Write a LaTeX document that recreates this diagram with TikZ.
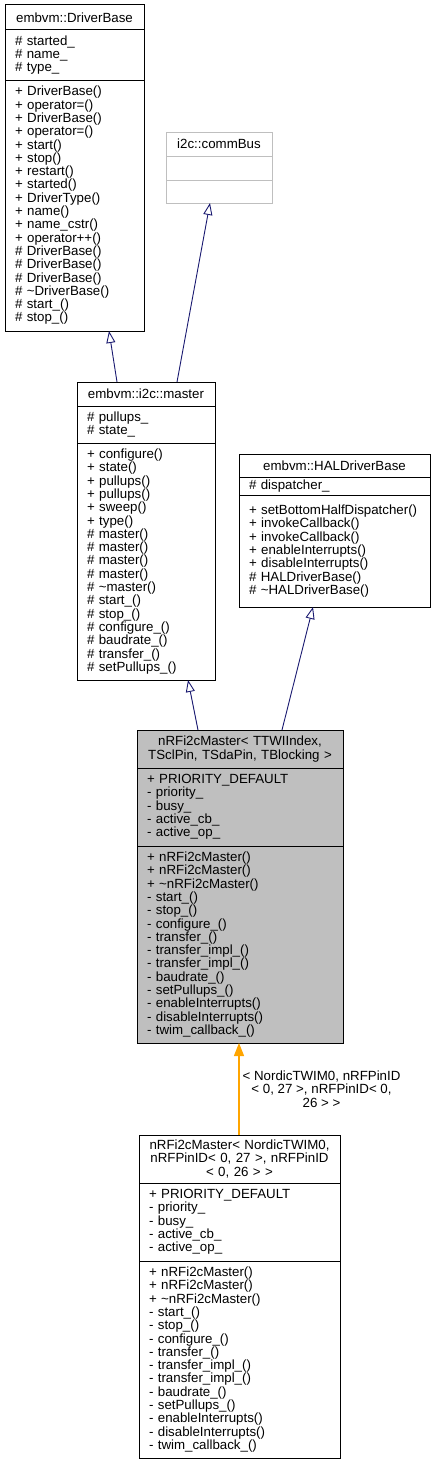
\documentclass[tikz,border=0pt]{standalone}
\usepackage{fontspec}
\setmainfont{Liberation Sans}
\usetikzlibrary{arrows.meta, positioning}
\definecolor{cNavy}{RGB}{25,25,112}
\definecolor{cOrange}{RGB}{255,165,0}
\definecolor{cGrey}{RGB}{191,191,191}
\newcommand{\umlfont}{\fontsize{13.3}{13.3}\selectfont\hyphenpenalty=10000}
\tikzset{
  basebox/.style={rectangle, draw=black, line width=1pt, inner xsep=10pt,
                  inner ysep=0pt, outer sep=0pt, font=\umlfont},
  headbox/.style={basebox, align=center},
  listbox/.style={basebox, align=left},
  ghostbox/.style={basebox, draw=cGrey, align=center},
  inherit/.style={-{Triangle[open, length=12pt, width=9pt]}, line width=0.9pt, color=cNavy},
  tmplarrow/.style={-{Triangle[length=13pt, width=10pt]}, line width=1.3pt, draw=cOrange, fill=cOrange}
}

\begin{document}
\begin{tikzpicture}[x=1pt, y=-1pt]
  \useasboundingbox (0,0) rectangle (434,1464);

  % ── embvm::DriverBase ──
  \node[headbox, text width=119pt, minimum height=25pt, anchor=north west] (db_name) at (5,5)
      {embvm::DriverBase};
  \node[listbox, text width=119pt, minimum height=50pt, below=0pt of db_name] (db_attr)
      {\# started\_\\\# name\_\\\# type\_};
  \node[listbox, text width=119pt, minimum height=251pt, below=0pt of db_attr] (db_meth)
      {+ DriverBase()\\+ operator=()\\+ DriverBase()\\+ operator=()\\+ start()\\+ stop()\\
       + restart()\\+ started()\\+ DriverType()\\+ name()\\+ name\_cstr()\\+ operator++()\\
       \# DriverBase()\\\# DriverBase()\\\# DriverBase()\\\# \textasciitilde DriverBase()\\
       \# start\_()\\\# stop\_()};

  % ── i2c::commBus ──
  \node[ghostbox, text width=86pt, minimum height=24pt, anchor=north west] (cb_name) at (166,132)
      {i2c::commBus};
  \node[ghostbox, text width=86pt, minimum height=24pt, below=0pt of cb_name] (cb_attr) {};
  \node[ghostbox, text width=86pt, minimum height=23pt, below=0pt of cb_attr] (cb_meth) {};

  % ── embvm::i2c::master ──
  \node[headbox, text width=118pt, minimum height=24pt, anchor=north west] (ms_name) at (77,382)
      {embvm::i2c::master};
  \node[listbox, text width=118pt, minimum height=37pt, below=0pt of ms_name] (ms_attr)
      {\# pullups\_\\\# state\_};
  \node[listbox, text width=118pt, minimum height=237pt, below=0pt of ms_attr] (ms_meth)
      {+ configure()\\+ state()\\+ pullups()\\+ pullups()\\+ sweep()\\+ type()\\
       \# master()\\\# master()\\\# master()\\\# master()\\\# \textasciitilde master()\\
       \# start\_()\\\# stop\_()\\\# configure\_()\\\# baudrate\_()\\\# transfer\_()\\
       \# setPullups\_()};

  % ── embvm::HALDriverBase ──
  \node[headbox, text width=171pt, minimum height=23pt, anchor=north west] (hal_name) at (239,454)
      {embvm::HALDriverBase};
  \node[listbox, text width=171pt, minimum height=18pt, below=0pt of hal_name] (hal_attr)
      {\# dispatcher\_};
  \node[listbox, text width=171pt, minimum height=112pt, below=0pt of hal_attr] (hal_meth)
      {+ setBottomHalfDispatcher()\\+ invokeCallback()\\+ invokeCallback()\\
       + enableInterrupts()\\+ disableInterrupts()\\\# HALDriverBase()\\
       \# \textasciitilde HALDriverBase()};

  % ── nRFi2cMaster template ──
  \node[headbox, fill=cGrey, text width=186pt, minimum height=38pt, anchor=north west] (nr_name) at (137,730)
      {nRFi2cMaster< TTWIIndex,\\TSclPin, TSdaPin, TBlocking >};
  \node[listbox, fill=cGrey, text width=186pt, minimum height=78pt, below=0pt of nr_name] (nr_attr)
      {+ PRIORITY\_DEFAULT\\- priority\_\\- busy\_\\- active\_cb\_\\- active\_op\_};
  \node[listbox, fill=cGrey, text width=186pt, minimum height=197pt, below=0pt of nr_attr] (nr_meth)
      {+ nRFi2cMaster()\\+ nRFi2cMaster()\\+ \textasciitilde nRFi2cMaster()\\- start\_()\\
       - stop\_()\\- configure\_()\\- transfer\_()\\- transfer\_impl\_()\\- transfer\_impl\_()\\
       - baudrate\_()\\- setPullups\_()\\- enableInterrupts()\\- disableInterrupts()\\
       - twim\_callback\_()};

  % ── nRFi2cMaster instance ──
  \node[headbox, text width=181pt, minimum height=48pt, anchor=north west] (bt_name) at (139,1135)
      {nRFi2cMaster< NordicTWIM0,\\nRFPinID< 0, 27 >, nRFPinID\\< 0, 26 > >};
  \node[listbox, text width=181pt, minimum height=78pt, below=0pt of bt_name] (bt_attr)
      {+ PRIORITY\_DEFAULT\\- priority\_\\- busy\_\\- active\_cb\_\\- active\_op\_};
  \node[listbox, text width=181pt, minimum height=197pt, below=0pt of bt_attr] (bt_meth)
      {+ nRFi2cMaster()\\+ nRFi2cMaster()\\+ \textasciitilde nRFi2cMaster()\\- start\_()\\
       - stop\_()\\- configure\_()\\- transfer\_()\\- transfer\_impl\_()\\- transfer\_impl\_()\\
       - baudrate\_()\\- setPullups\_()\\- enableInterrupts()\\- disableInterrupts()\\
       - twim\_callback\_()};

  % ── ARROWS ──
  \draw[inherit] ([xshift=40pt]ms_name.north west) -- ([xshift=104pt]db_meth.south west);
  \draw[inherit] ([xshift=100pt]ms_name.north west) -- ([xshift=44pt]cb_meth.south west);
  \draw[inherit] ([xshift=61pt]nr_name.north west) -- ([xshift=111pt]ms_meth.south west);
  \draw[inherit] ([xshift=145pt]nr_name.north west) -- ([xshift=74pt]hal_meth.south west);
  \draw[tmplarrow] ([xshift=100pt]bt_name.north west) -- ([xshift=102pt]nr_meth.south west)
      node[midway, anchor=west, inner xsep=3pt, text=black, font=\umlfont, align=center] (bt_label)
      {< NordicTWIM0, nRFPinID\\< 0, 27 >, nRFPinID< 0,\\26 > >};

\end{tikzpicture}
\end{document}
